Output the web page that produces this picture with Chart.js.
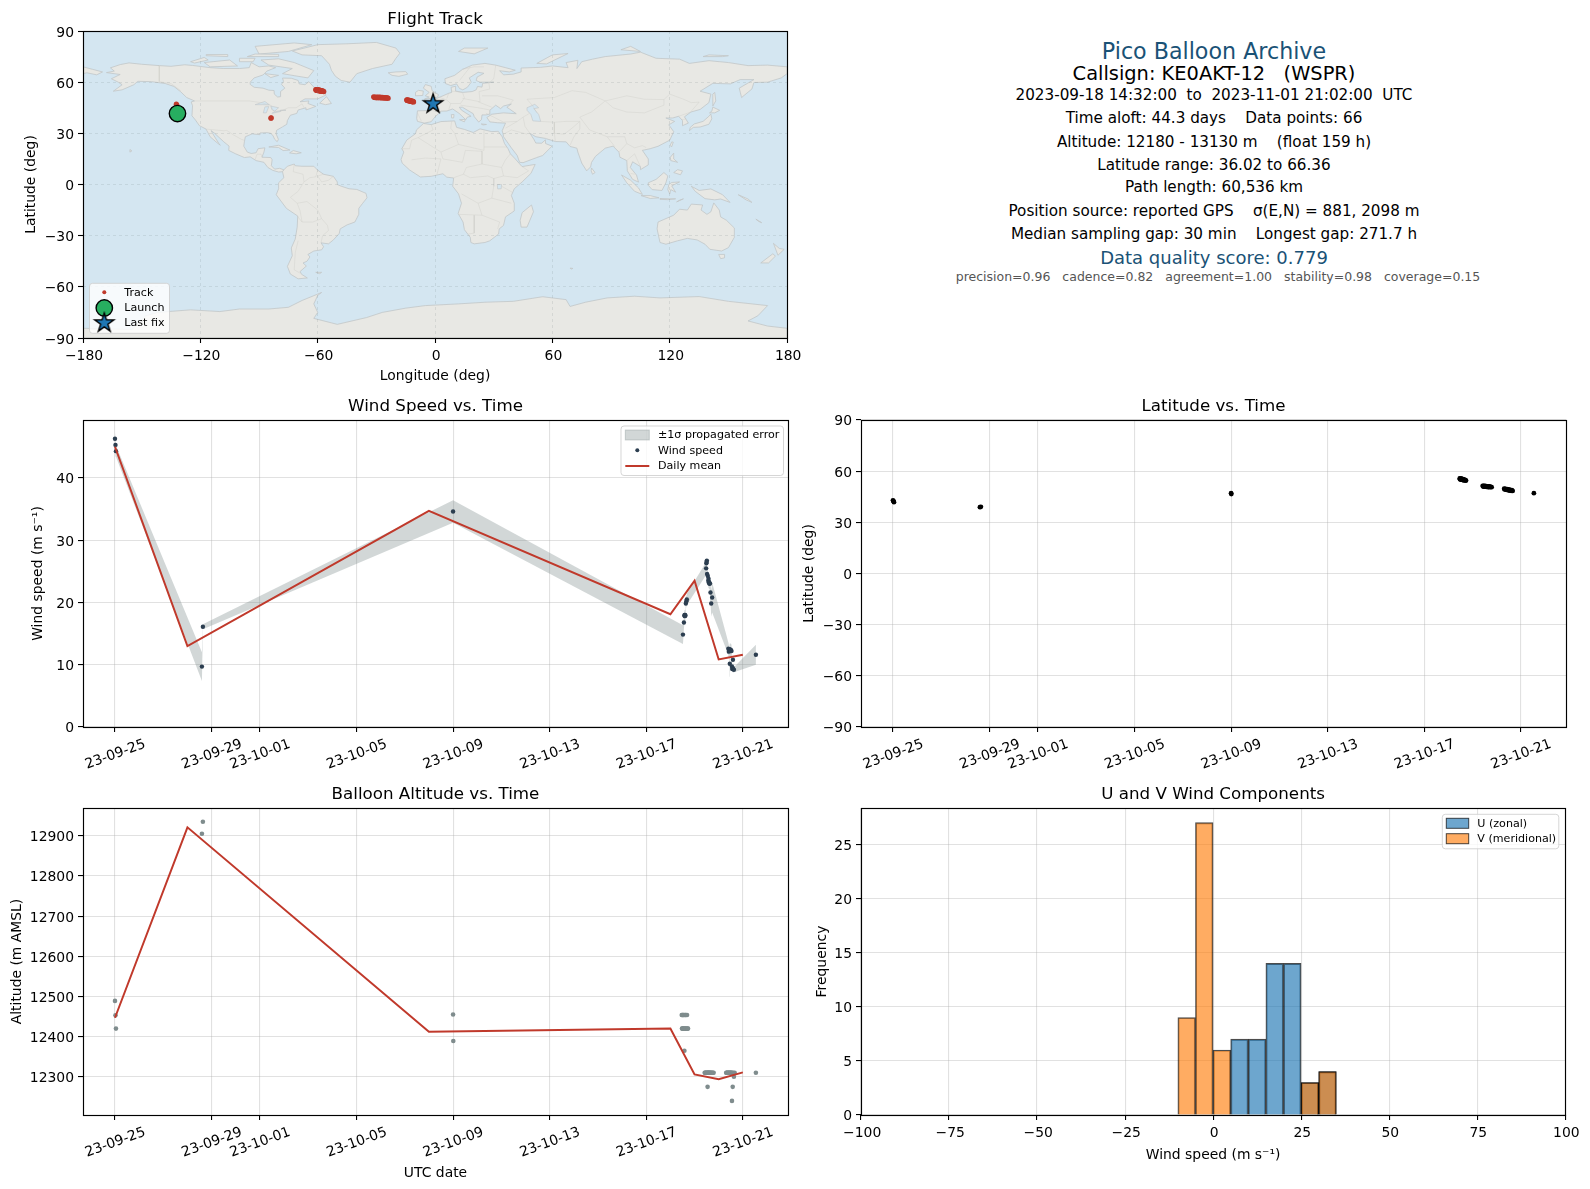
<!DOCTYPE html>
<html><head><meta charset="utf-8">
<style>
html,body{margin:0;padding:0;background:#fff}
#page{position:relative;width:1590px;height:1189px;overflow:hidden;font-family:"DejaVu Sans",sans-serif;color:#000}
canvas{position:absolute}
.t{position:absolute;left:1214px;transform:translate(-50%,-50%);white-space:pre;font-size:14px;line-height:1}
</style>
<script src="https://cdn.jsdelivr.net/npm/chart.js@4/dist/chart.umd.js"></script>
</head><body><div id="page"></div>
<script>
// ---- time axis ----
const timeTickDays=[0,4,6,10,14,18,22,26];
const timeTickLabels=['23-09-25','23-09-29','23-10-01','23-10-05','23-10-09','23-10-13','23-10-17','23-10-21'];
const lonTicks=[-180,-120,-60,0,60,120,180];
const latTicks=[-90,-60,-30,0,30,60,90];
const windTicks=[0,10,20,30,40];
const altTicks=[12300,12400,12500,12600,12700,12800,12900];
const histXTicks=[-100,-75,-50,-25,0,25,50,75,100];
const histYTicks=[0,5,10,15,20,25];

// ---- fixes (66) ----
const fixDays=[0.00,0.02,0.04,3.60,3.64,14.00,14.01,
23.47,23.48,23.49,23.50,23.51,23.52,23.54,23.55,23.56,23.57,23.58,23.60,23.61,23.62,23.63,23.65,23.67,23.69,23.71,23.73,
24.42,24.44,24.46,24.48,24.50,24.52,24.54,24.55,24.56,24.57,24.58,24.60,24.62,24.64,24.66,24.68,24.70,24.73,24.76,24.79,
25.31,25.33,25.35,25.37,25.39,25.41,25.43,25.45,25.47,25.49,25.51,25.53,25.55,25.56,25.58,25.60,25.63,25.66,26.54];
const fixLat=[42.9,42.4,41.8,38.9,39.1,47.1,46.6,
55.7,55.3,55.6,55.1,55.5,55.2,55.6,55.0,55.4,55.0,55.3,54.8,55.2,54.7,55.1,54.9,54.6,54.9,54.6,54.5,
51.4,51.0,51.3,50.9,51.3,50.9,51.2,50.9,51.2,50.8,51.1,50.8,51.1,50.7,51.0,50.7,51.0,50.6,50.8,50.6,
49.7,49.3,49.6,49.2,49.5,49.1,49.4,49.0,49.3,48.8,49.1,48.7,49.0,48.6,48.9,48.5,48.8,48.4,47.1];
const fixLon=[-132.2,-132.1,-132.0,-83.9,-83.8,-132.3,-132.0,
-61.0,-60.8,-60.6,-60.4,-60.2,-60.0,-59.8,-59.6,-59.4,-59.2,-59.0,-58.8,-58.6,-58.4,-58.2,-58.0,-57.7,-57.4,-57.1,-56.9,
-31.4,-31.0,-30.6,-30.2,-29.8,-29.4,-29.0,-28.6,-28.2,-27.8,-27.5,-27.2,-26.8,-26.4,-26.0,-25.6,-25.2,-24.8,-24.4,-24.0,
-14.5,-14.3,-14.1,-13.9,-13.7,-13.5,-13.3,-13.1,-12.9,-12.7,-12.5,-12.3,-12.1,-11.9,-11.7,-11.5,-11.2,-11.0,-2.0];
const fixAlt=[12489,12453,12420,12905,12935,12455,12389,
12454,12420,12454,12420,12454,12420,12454,12420,12454,12420,12365,12454,12420,12454,12420,12454,12420,12454,12420,12420,
12310,12310,12310,12310,12310,12310,12275,12310,12310,12310,12310,12310,12310,12310,12310,12310,12310,12310,12310,12310,
12310,12310,12310,12310,12310,12310,12310,12310,12310,12310,12310,12310,12240,12310,12275,12310,12300,12310,12310];

// ---- wind speed ----
const windDays=[0.00,0.02,0.04,3.60,3.64,14.00,
23.52,23.56,23.58,23.59,23.60,23.61,23.62,23.64,23.66,23.68,
24.48,24.49,24.50,24.51,24.52,24.55,24.57,24.58,24.59,24.60,24.62,24.64,24.66,24.69,24.73,
25.40,25.42,25.44,25.45,25.46,25.47,25.50,25.53,25.55,25.56,25.58,25.59,25.60,25.63,26.54];
const windSpeed=[46.3,45.3,44.3,9.7,16.1,34.6,
14.84,16.77,17.9,18.0,17.8,18.0,17.9,19.84,20.2,20.48,
25.48,26.29,26.5,26.72,24.57,24.25,23.5,23.8,23.17,23.3,23.0,23.06,21.6,19.84,20.8,
12.58,12.1,12.5,12.31,10.16,12.4,12.42,12.2,9.73,9.3,9.5,10.8,9.3,9.2,11.6];
const windSigma=[1.0,1.0,0.9,2.3,0.4,1.8,
1.5,1.0,0.9,0.9,0.9,0.9,0.9,0.9,0.9,0.9,
1.0,0.9,0.9,0.8,0.9,0.9,0.9,0.9,0.9,0.9,0.9,0.9,1.5,2.1,2.4,
1.0,1.0,1.0,1.0,2.1,1.0,1.0,1.0,0.7,0.6,0.6,0.7,0.6,0.4,1.6];
const meanDays=[0,3,13,23,24,25,26];
const meanWind=[45.0,13.0,34.7,18.1,23.5,10.85,11.6];
const meanAlt=[12447,12921,12412,12420,12306,12294,12311];

// ---- histogram ----
const uCenters=[7.5,12.5,17.5,22.5,27.5,32.5];
const uCounts=[7,7,14,14,3,4];
const vCenters=[-7.5,-2.5,2.5,27.5,32.5];
const vCounts=[9,27,6,3,4];

// ---- markers ----
const launchLon=[-131.7], launchLat=[41.6];
const lastLon=[-1.0], lastLat=[47.3];

// ---- land outlines (lon,lat) ----
const landNorthAmerica=[[-168,65.6],[-164,66.5],[-166,68.4],[-161,70.3],[-156.5,71.3],[-150,70.5],[-141,69.7],[-135,69.3],[-128,70.2],[-124,69.8],[-115,68.5],[-108,68],[-100,68],[-95,68.5],[-94,71.5],[-90,69],[-85,69.5],[-81.5,68.5],[-86,66.5],[-88,64.2],[-92.5,62.5],[-94.5,60],[-94.5,58.7],[-92.5,57],[-88,56.5],[-85,55.3],[-82.3,55.1],[-82.2,53],[-80.5,51.3],[-79,51.5],[-79,54.5],[-76.8,56.5],[-78.5,58.7],[-77.5,60.5],[-78,62.4],[-73.5,62.3],[-70,61],[-69.5,59],[-66.5,58.5],[-64.5,60.3],[-61.5,56.5],[-57.5,54.5],[-55.7,52.5],[-60,50.2],[-66.5,50.2],[-69,48.5],[-64.5,49],[-65,47.5],[-61,45.8],[-64,44.5],[-66,43.7],[-66,45],[-70,43.7],[-70.7,41.7],[-74,40.6],[-75.5,37.5],[-75.8,35.3],[-78,33.8],[-81,31.8],[-81.3,29.8],[-80.1,26.5],[-80.7,25.1],[-82,26.5],[-82.8,28.5],[-84,30],[-86,30.4],[-89.5,30.2],[-89.5,29.2],[-93.5,29.7],[-97,28],[-97.5,25],[-97.8,22.5],[-96,19],[-94,18.2],[-91.5,18.6],[-90.5,21],[-87,21.5],[-87.5,19],[-88.5,16],[-84,15.8],[-83.3,14.5],[-83.7,11],[-82,9],[-79.5,9.5],[-77.3,8.6],[-78,7.5],[-80,7.3],[-83,8.3],[-85.5,10],[-87.5,13],[-91.5,14],[-94.5,16.2],[-97.5,15.8],[-102,18],[-105.5,20],[-105.3,22.5],[-108,25],[-112.7,30],[-114.5,31.6],[-113,28.5],[-110.5,24],[-109.8,23],[-112,25],[-115,28],[-117.1,32.5],[-120.5,34.5],[-122.5,37.8],[-124.3,40.3],[-124,46.2],[-124.7,48.4],[-123,49],[-127,51],[-130,54.3],[-133.5,57.5],[-138,59.2],[-145,60.3],[-152,60.5],[-154,58.5],[-160,55.5],[-164.5,54.7],[-160,58.5],[-162,60],[-165.5,62],[-161,64.5],[-168,65.6]];
const landSouthAmerica=[[-77.3,8.6],[-75.5,10.7],[-72,12],[-71.5,11],[-68,10.7],[-62,10.7],[-60,8.4],[-57,6],[-52,4.8],[-50,1.5],[-50,0],[-48,-1],[-44,-2.5],[-40,-2.9],[-35.3,-5.2],[-34.8,-7.8],[-37,-11],[-39,-14],[-39,-17.5],[-41,-22],[-45,-23.7],[-48.5,-26],[-49,-28.7],[-52,-32.5],[-54.5,-34.8],[-58.3,-34.2],[-57,-36.5],[-58,-38.3],[-62,-39],[-65,-41],[-64,-42.5],[-65.5,-45],[-67.5,-46],[-65.8,-47.8],[-69,-51],[-68.3,-52.6],[-65.3,-54.8],[-70,-55.3],[-74,-52.5],[-75.5,-48],[-73,-41.8],[-73.5,-37.2],[-71.5,-32],[-70.5,-25],[-70.2,-18.5],[-76,-14],[-81.2,-6],[-80,-2.5],[-80,1],[-77.3,4],[-78,7.5],[-77.3,8.6]];
const landAfrica=[[-5.9,35.8],[-2,35.1],[3,36.9],[10,37.3],[11,33.5],[15,32.3],[19.5,30.5],[23,32.6],[29,31],[32.3,31.2],[34.3,28],[35.5,24],[37.3,21],[38.5,18],[41,15],[43.3,12],[44.5,10.5],[51.2,11.8],[49,6.5],[44.5,1.5],[40.5,-2.5],[39,-6.5],[40.5,-11],[40.5,-15.5],[36,-19],[35,-24],[32.8,-26],[32.5,-29],[28,-33],[25.5,-34],[20,-34.8],[18.3,-34],[18,-31],[15,-26.5],[14.3,-22],[11.8,-17],[13.5,-11],[12,-5.5],[9,-1],[9.5,3.8],[6,4.3],[4,6.3],[-2,4.8],[-7.5,4.4],[-13,8.5],[-16.8,12.5],[-17.4,14.7],[-16,19],[-17,21],[-14.5,26],[-10,29.8],[-9.5,32],[-5.9,35.8]];
const landEurasia=[[-9,37],[-9.4,38.8],[-9,43.2],[-1.8,43.4],[-1.2,46],[-4.7,48.3],[-1.5,48.7],[1.5,50.8],[4,52],[7,53.5],[8.5,54],[8.2,57],[10.5,57.6],[10.5,54.8],[14,54],[19,54.5],[21,55.5],[21.7,57.5],[24,57.1],[24.3,59.3],[30,60],[23,60],[21,61],[21.5,63],[25,65.2],[22,65.8],[17.5,62.5],[18.5,60],[16.5,57],[14.2,55.5],[12.5,56.3],[11,59],[8,58],[5.3,59.2],[5,62],[10,64],[14,67.5],[19,70],[25.5,71],[31,70],[41,67],[38,66],[33,66.7],[35,64.3],[40,64.7],[44,66],[44,68.3],[54,68.7],[60,69.5],[68,68.5],[67,71.5],[73,72.8],[72.5,68],[75,72],[80.5,73.5],[87,75],[100,76.5],[105,77.6],[113,74],[125,73.5],[130,71],[140,72.6],[150,71.5],[160,69.7],[170,70],[180,69],[180,65],[177,62.5],[170,60],[163,59.8],[162,56],[156.7,51],[155.5,56.5],[163,61.5],[156,61.5],[151,59],[142,59.3],[135.5,54.7],[141,53],[140,48],[135.5,44],[130.8,42.5],[127.5,39.7],[129.5,36],[126.5,34.5],[126.5,37.5],[124.5,40],[121.5,39],[118,39],[122.5,37],[119.5,35],[122,31],[120,26],[114,22.4],[110,21],[106,20],[109,15],[109,11.5],[105,8.7],[105,10.5],[101,13.3],[99.8,10],[103,5.5],[104,1.4],[101,3],[98.3,8],[98,14],[94.5,16],[94,19],[91,22.5],[87,21.3],[82,16.5],[80,13],[79.5,10.3],[77.5,8],[75,12.5],[73,19],[72.5,21.3],[69,22.3],[67,25],[61.5,25.2],[57,26.8],[56.5,27],[51.5,28],[48.5,30],[50.5,26.5],[51.5,24.3],[54.5,24.2],[56.4,26.2],[56.5,24],[59.8,22.5],[55,17],[52,15.8],[45,12.8],[43.2,13],[42,17],[39,21.5],[35,28],[34.8,29.5],[34.3,31.5],[36,36],[32,36.2],[28,36.7],[26.5,39.3],[29,41.2],[35,42],[41.5,41.5],[38,44.3],[36.7,45.3],[39,47.2],[35,46],[33.5,44.5],[31,46.5],[28,43.5],[28,41.3],[26,40.8],[24,40.8],[23.7,38],[22.3,36.6],[20,39.8],[19.5,41.5],[14,45.3],[12.4,45.3],[13.5,43.6],[18.4,40],[16.5,39.5],[15.7,38],[12.3,41.7],[9,44.3],[6,43.1],[3.2,43],[0,39.7],[-2,36.8],[-5.5,36],[-9,37]];
const landChukotka=[[-180,69],[-175,67.5],[-170,66],[-173,64.3],[-178,65.5],[-180,65]];
const landGreenland=[[-73,78.3],[-68,76],[-58,75.5],[-54,70.5],[-53,67],[-51,63.5],[-48,61],[-43.5,60],[-40,65],[-32,68],[-22,70.5],[-20,74],[-18,77],[-20,80],[-30,83.3],[-45,82.5],[-60,82],[-65,80.5],[-73,78.3]];
const landIceland=[[-24,65.5],[-22,64],[-18.5,63.4],[-14,64.7],[-15,66.2],[-20,66],[-24,65.5]];
const landBritain=[[-5.5,50],[1.3,51.2],[1.7,52.7],[-1.5,55],[-2,57.6],[-5,58.6],[-6,56.5],[-3,54],[-5,52],[-3,51.3],[-5.5,50]];
const landIreland=[[-10,52],[-6.3,52.2],[-6,54.8],[-8.5,55.2],[-10,54],[-10,52]];
const landHonshu=[[130,31.5],[132,33.5],[135.5,33.7],[140,35.3],[141.5,38.5],[141,41.3],[140,40],[137,37],[132.5,35.5],[130.5,33.5],[130,31.5]];
const landHokkaido=[[140.3,42],[143,42],[145.5,43.5],[142,45.4],[141.5,43],[140.3,42]];
const landSakhalin=[[142,46],[143.5,49],[143,54],[142,53],[142,46]];
const landTaiwan=[[120.2,23],[121,25],[121.8,24.8],[120.9,22],[120.2,23]];
const landLuzon=[[120.3,16],[122,18.4],[122,15],[124,13],[120.5,14],[120.3,16]];
const landMindanao=[[122,7],[125.5,5.7],[126.5,8],[124,8.7],[122,7]];
const landBorneo=[[109,1],[113,3],[117,7],[119,5],[118,1],[116,-3.5],[111,-3],[109,-0.5],[109,1]];
const landSumatra=[[95.3,5.6],[100,2.5],[104,-2],[106,-5.8],[102,-4],[98,1],[95.3,5.6]];
const landJava=[[105.3,-6.5],[110,-6.5],[114.5,-7.8],[110,-8.2],[105.3,-6.5]];
const landSulawesi=[[119.5,0],[121,1.2],[125,1.5],[121,-0.8],[123,-4.5],[120.5,-3],[120,-5.5],[119,-3],[119.5,0]];
const landNewGuinea=[[131,-1],[135,-3.5],[141,-2.6],[147,-6],[150.8,-10.5],[146,-8.5],[143,-9],[138,-8.3],[133,-4],[131,-1]];
const landAustralia=[[114,-22],[113.5,-26],[115,-34],[118,-35],[124,-33],[129,-31.6],[134,-32.5],[138,-35],[140.5,-38],[146.5,-39],[150,-37],[153,-31],[153,-25.5],[149,-21],[146,-19],[145.3,-15],[142.5,-10.8],[141,-16],[139,-17.5],[136,-15],[136.8,-12],[131,-11.5],[129,-15],[125,-14.5],[122,-18],[117,-20.5],[114,-22]];
const landTasmania=[[145,-41],[148,-41],[148,-43],[146,-43.5],[145,-41]];
const landNZNorth=[[173,-34.5],[176,-37.5],[178.5,-38],[175.3,-41.5],[174.5,-39],[173,-34.5]];
const landNZSouth=[[172.7,-40.6],[174,-42],[170.5,-46],[166.5,-46],[172.7,-40.6]];
const landMadagascar=[[49.3,-12],[50.3,-16],[47,-25],[44,-25],[43.5,-21],[44.5,-16.5],[49.3,-12]];
const landSriLanka=[[80,9.7],[81.8,7],[80.5,6],[79.8,8],[80,9.7]];
const landCuba=[[-85,22],[-80,23],[-74.2,20.2],[-77.7,19.9],[-80,21.7],[-85,22]];
const landHispaniola=[[-74.4,18.5],[-72.5,19.9],[-68.4,18.6],[-71,18],[-74.4,18.5]];
const landNewfoundland=[[-59,47.7],[-55.5,51.5],[-53,47.5],[-56,46.8],[-59,47.7]];
const landBaffin=[[-80,73.7],[-72,71.5],[-62,66.8],[-65,62.5],[-72,63.8],[-78,65],[-73,68],[-85,70],[-89,73],[-80,73.7]];
const landVictoria=[[-118,71.5],[-105,73],[-101,69.5],[-115,69],[-118,71.5]];
const landBanks=[[-125,72],[-118,74.5],[-116,73],[-123,71.2],[-125,72]];
const landEllesmere=[[-90,76.5],[-75,78],[-63,82],[-72,83],[-92,81],[-90,76.5]];
const landDevon=[[-96,75],[-80,75],[-80,76.3],[-92,76.5],[-96,75]];
const landSouthampton=[[-87,65],[-80,64],[-84,62.7],[-87,65]];
const landMelville=[[-117,75.5],[-106,75],[-106,76.2],[-117,76.2],[-117,75.5]];
const landPrinceWales=[[-100,74],[-92,74],[-93,72],[-100,72],[-100,74]];
const landNovaya=[[52,71],[57,70.7],[68,76.8],[60,76],[52,71]];
const landSvalbard=[[12,78],[20,76.6],[27,80],[15,80],[12,78]];
const landSevernaya=[[95,79],[105,78],[100,81],[95,79]];
const landSiberianIs=[[137,75],[147,75],[150,75.5],[140,76],[137,75]];
const landHawaii=[[-156,19],[-155,19.7],[-156,20.5],[-156,19]];
const landNewCaledonia=[[164,-20.3],[167,-22.4],[165.5,-21.7],[164,-20.3]];
const landFalklands=[[-61,-51.5],[-58,-51.5],[-59,-52.3],[-61,-51.5]];
const landKerguelen=[[69,-49],[70.5,-49.2],[69.5,-49.6],[69,-49]];
const landSicily=[[12.5,38],[15.5,38.2],[15,36.7],[12.5,38]];
const landSardinia=[[8.3,41],[9.7,41],[9.5,39],[8.5,39],[8.3,41]];
const landCrete=[[23.6,35.5],[26.3,35.2],[24.5,34.9],[23.6,35.5]];
const landTimor=[[123.5,-10.2],[127,-8.4],[125,-9.2],[123.5,-10.2]];
const landFlores=[[115,-8.2],[120,-8.4],[123,-8.4],[119,-8.9],[115,-8.7],[115,-8.2]];
const landSolomon=[[155,-6],[160,-8.5],[162,-10.5],[159,-9],[155,-6]];
const landAntarctica=[[-180,-84.3],[-155,-85],[-148,-77],[-142,-75],[-125,-73.5],[-110,-74.5],[-100,-73],[-85,-73],[-75,-72],[-68,-68],[-58,-63.3],[-60,-65],[-62,-70],[-60,-75],[-62,-78.5],[-50,-82],[-35,-78],[-27,-75],[-15,-72.5],[-5,-71],[12,-70],[26,-69],[40,-68.5],[55,-65.8],[67,-67.5],[69,-71.5],[77,-69],[88,-66.5],[102,-65.5],[115,-66.5],[135,-65.7],[150,-68.5],[170,-71],[165,-77],[160,-80],[170,-83],[180,-84.3],[180,-90],[-180,-90],[-180,-84.3]];
const waterCaspian=[[47,45],[51,47],[53,45],[50.5,44.5],[53,41],[54,37],[50,37.3],[49,41],[47,43.5],[47,45]];
const waterSuperior=[[-92,46.8],[-87,48.7],[-84.7,46.7],[-88,46.8],[-92,46.8]];
const waterMichigan=[[-87.8,42],[-86.3,42],[-85,45.7],[-87,45.5],[-87.8,42]];
const waterHuron=[[-84,46],[-80,45],[-82,43],[-83.5,44],[-84,46]];
const waterErie=[[-83.4,41.7],[-79,42.8],[-79,43.6],[-76.2,43.6],[-79.5,43.2],[-83,42.2],[-83.4,41.7]];
const waterVictoria=[[31.8,0],[34,0],[33.8,-2.5],[32,-2.6],[31.8,0]];
const landLayers=[landNorthAmerica,landSouthAmerica,landAfrica,landEurasia,landChukotka,landGreenland,landIceland,landBritain,landIreland,landHonshu,landHokkaido,landSakhalin,landTaiwan,landLuzon,landMindanao,landBorneo,landSumatra,landJava,landSulawesi,landNewGuinea,landAustralia,landTasmania,landNZNorth,landNZSouth,landMadagascar,landSriLanka,landCuba,landHispaniola,landNewfoundland,landBaffin,landVictoria,landBanks,landEllesmere,landDevon,landSouthampton,landMelville,landPrinceWales,landNovaya,landSvalbard,landSevernaya,landSiberianIs,landHawaii,landNewCaledonia,landFalklands,landKerguelen,landSicily,landSardinia,landCrete,landTimor,landFlores,landSolomon,landAntarctica];
const waterLayers=[waterCaspian,waterSuperior,waterMichigan,waterHuron,waterErie,waterVictoria];

// ---- political borders (lon,lat) ----
const borderLines=[
[[-141,69.7],[-141,60.3],[-135,59.2],[-130,55]],
[[-123,49],[-95,49],[-89,48],[-84,46.5],[-82.5,43],[-79,43],[-75,45],[-71,45],[-68,47.3],[-67,45]],
[[-117.1,32.5],[-108,31.5],[-106.5,31.7],[-103,29],[-99,26.5],[-97.5,25.9]],
[[-92,14.6],[-91,17.8],[-89,17.8],[-88.5,16]],
[[-72,12],[-72.5,7.5],[-67.5,6],[-67,1.5],[-70,-4],[-74,-7.5],[-70.5,-11],[-69,-15.5],[-68,-22],[-70.5,-18.5]],
[[-60,8.4],[-61,4.5],[-64,4],[-67,1.5]],
[[-58,-20],[-60,-15],[-65.5,-10],[-70.5,-11]],
[[-68,-22],[-62.5,-22],[-58,-20],[-55,-24],[-54.5,-27],[-57.5,-30],[-58.3,-34.2]],
[[-70,-33],[-71.5,-40],[-72,-50],[-69,-52]],
[[-52,4.8],[-54.5,2.5],[-58,1.5],[-60,5],[-57,6]],
[[-8.7,27.5],[-12,26],[-13,21],[-17,21]],
[[-2,35.1],[-1,32],[-8.7,27.5],[3,19],[12,23.5],[10,30],[8,33],[8.5,37]],
[[12,23.5],[25,20],[25,31.7]],
[[25,22],[36.8,22]],
[[3,19],[4,15],[14,13],[15.5,20],[24,19.5],[24,12],[16,10],[14.5,6],[9.5,4]],
[[-12,14.5],[-5,15.5],[3,15],[1,6]],
[[24,12],[34,10],[36,14.5],[38.5,18]],
[[34,10],[35,5],[42,4],[47.8,8],[44.5,10.5]],
[[35,5],[30,3.5],[27,5],[18,4],[14.5,6]],
[[30,3.5],[30,-1],[29,-8],[22,-11],[13.5,-5.5]],
[[29,-8],[39,-11]],[[34,-1],[39.5,-4.6]],
[[22,-11],[24,-18],[12,-17.5]],[[20,-18],[20,-28.5],[17,-29]],
[[24,-18],[33,-22],[32,-26]],
[[2.5,51],[6,49.5],[8,47.5],[7,44]],[[-1.8,43.4],[3.2,42.5]],[[-9,42],[-7,37.2]],
[[7,53.5],[6,50.5]],[[8.5,54.8],[14,54]],[[14,54],[15,50.8],[13,47.5],[8,47.5]],
[[14,50.5],[23,48.5],[22.5,54.5]],[[13,46.5],[22,45],[28,43.7]],[[22,48.5],[29,45.3]],
[[22.5,54.5],[28,56],[27.5,59.5]],[[24,52],[32,52],[40,49.5],[38,47]],
[[31,70],[30,62],[27.5,59.5]],[[14,67.5],[20,69],[25,69]],[[12.5,61],[18,69]],
[[26,41.8],[35,36.6],[42,37],[45,39.5],[48,41.5]],
[[36,33],[42,37]],[[39,32],[47,29.5]],[[45,39.5],[46,34],[48.5,30]],[[39,32],[35,29.5]],
[[52,42],[50,46],[47,50],[61,51],[70,55],[77,54],[87,49],[98,52],[107,50],[117,49.8],[120,53],[127,50],[131,48],[135,48.3],[131,43]],
[[87,49],[80,42.5],[74,39.5],[79,32],[88,28],[97,28],[98,24],[102,21.5],[106,22.8],[108,21.6]],
[[98,42.5],[107,42],[117,46.5],[117,49.8]],[[87,49],[91,45],[98,42.5]],
[[54,37],[61,36.5],[61,30],[61.5,25.2]],[[61,36.5],[67,37],[74,37]],[[61,30],[66,29.5],[70,33],[74,37]],
[[69,23],[71,28],[74,32.5],[74,37]],[[88,28],[92,22]],[[94,19],[98,24]],[[98,14],[102,18],[105,10.5]],[[100,6.5],[102,6]],
[[124.5,40],[130.8,42.5]],[[126,38],[128.5,38.5]]
];
const oceanColor='#d4e6f1', landFill='#e8e8e4', landEdge='#c2c6c8', borderColor='rgba(205,205,200,0.55)';
const red='#c0392b';

// ---- helpers ----
const page=document.getElementById('page');
const tickPx=13.9;
Chart.defaults.font.family='"DejaVu Sans"';
Chart.defaults.color='#000';
Chart.defaults.animation=false;
const pts=(xs,ys)=>xs.map((x,i)=>({x,y:ys[i]}));
const minus=v=>String(v).replace('-','\u2212');
const grid={color:'rgba(176,176,176,0.38)',lineWidth:1.1,tickColor:'#000',tickLength:5,tickWidth:1.1,z:-1,offset:false};
const timeScale=(title,pad)=>({type:'linear',min:-1.325,max:27.87,
  afterBuildTicks:s=>{s.ticks=timeTickDays.map(value=>({value}))},
  afterFit:s=>{s.height=70},
  grid,border:{display:false},
  ticks:{autoSkip:false,minRotation:20,maxRotation:20,padding:4,labelOffset:30,font:{size:tickPx},callback:v=>timeTickLabels[timeTickDays.indexOf(v)]},
  title:title?{display:true,text:title,font:{size:tickPx},padding:pad,lineHeight:1.2}:{display:false}});
const valueScale=(ticks,min,max,title,pad,fmt)=>({type:'linear',min,max,
  afterBuildTicks:s=>{s.ticks=ticks.map(value=>({value}))},
  afterFit:s=>{s.width=83},
  grid,border:{display:false},
  ticks:{autoSkip:false,padding:4,labelOffset:1.8,font:{size:tickPx},callback:fmt||minus},
  title:{display:true,text:title,font:{size:tickPx},padding:pad,lineHeight:1.2}});

const framePlugin={id:'frame',
  beforeDatasetsDraw(c,a,o){
    if(!o.ocean) return;
    const A=c.chartArea,x=c.ctx;x.save();
    x.fillStyle=o.ocean;x.fillRect(A.left,A.top,A.right-A.left,A.bottom-A.top);
    x.beginPath();x.rect(A.left,A.top,A.right-A.left,A.bottom-A.top);x.clip();
    x.lineJoin='round';
    c.data.datasets.forEach((d,i)=>{
      if(!d.polygon) return;
      const m=c.getDatasetMeta(i).data;
      x.beginPath();m.forEach((p,j)=>x[j?'lineTo':'moveTo'](p.x,p.y));x.closePath();
      x.fillStyle=d.polygon.fill;x.fill();x.strokeStyle=d.polygon.edge;x.lineWidth=d.polygon.width;x.stroke();
    });
    x.restore();
  },
  afterDraw(c,a,o){
    const A=c.chartArea,x=c.ctx;x.save();x.strokeStyle='#000';x.lineWidth=1.15;
    x.strokeRect(Math.round(A.left)+.5,Math.round(A.top)+.5,Math.round(A.right-A.left),Math.round(A.bottom-A.top));x.restore();
    if(o.legend) drawLegend(c,o.legend);
  }};
function drawLegend(c,L){
  const x=c.ctx;x.save();
  x.beginPath();x.roundRect(L.x,L.y,L.w,L.h,3);x.fillStyle='rgba(255,255,255,0.8)';x.fill();
  x.strokeStyle='rgba(204,204,204,0.8)';x.lineWidth=1;x.stroke();
  x.font='11.1px "DejaVu Sans"';x.textBaseline='middle';x.textAlign='left';
  L.items.forEach(it=>{
    const d=c.data.datasets[it.ds];
    if(it.kind==='patch'){x.fillStyle=d.backgroundColor;x.fillRect(L.sx,it.y-5,L.sw,10);x.strokeStyle=d.patchEdge||d.backgroundColor;x.lineWidth=1;x.strokeRect(L.sx,it.y-5,L.sw,10);}
    if(it.kind==='line'){x.strokeStyle=d.borderColor;x.lineWidth=2;x.beginPath();x.moveTo(L.sx,it.y);x.lineTo(L.sx+L.sw,it.y);x.stroke();}
    const cx=L.sx+L.sw/2;
    if(it.kind==='dot'||it.kind==='circle'){x.beginPath();x.arc(cx,it.y,it.r,0,7);x.fillStyle=d.pointBackgroundColor;x.fill();if(it.kind==='circle'){x.strokeStyle='#000';x.lineWidth=1.4;x.stroke();}}
    if(it.kind==='star'){x.drawImage(d.pointStyle,cx-d.pointStyle.width/2,it.y-d.pointStyle.height/2);}
    x.fillStyle='#000';x.fillText(d.label,L.tx,it.y+.5);
  });
  x.restore();
}
function starImage(r,fill){
  const cv=document.createElement('canvas');cv.width=cv.height=2*r+6;
  const x=cv.getContext('2d'),m=r+3;x.beginPath();
  for(let i=0;i<10;i++){const a=-Math.PI/2+i*Math.PI/5,q=i%2?r*0.382:r;x[i?'lineTo':'moveTo'](m+q*Math.cos(a),m+q*Math.sin(a));}
  x.closePath();x.fillStyle=fill;x.fill();x.strokeStyle='#000';x.lineWidth=1.4;x.lineJoin='miter';x.stroke();return cv;
}
const W=805,H=307;
function panel(px,py,title,config,frameOpts,titleTop){
  const cv=document.createElement('canvas');
  cv.width=W;cv.height=32+H+70;
  cv.style.left=(px-83)+'px';cv.style.top=(py-32)+'px';cv.style.width=W+'px';cv.style.height=(32+H+70)+'px';
  page.appendChild(cv);
  const tt=titleTop===undefined?9:titleTop;
  config.options=Object.assign({responsive:false,maintainAspectRatio:false,devicePixelRatio:1,animation:false,
    layout:{padding:{right:W-83-705,left:0,top:0,bottom:0}},
    plugins:{legend:{display:false},tooltip:{enabled:false},
      title:{display:true,text:title,fullSize:false,font:{size:16.7,weight:'normal',lineHeight:'20px'},padding:{top:tt,bottom:12-tt},color:'#000'},
      frame:frameOpts||{}}},config.options);
  config.plugins=[framePlugin];
  return new Chart(cv.getContext('2d'),config);
}

// ---- Flight Track ----
const starMarker=starImage(10,'#1f77b4');
const polyDs=(p,fill,edge,width)=>({data:p.map(a=>({x:a[0],y:a[1]})),pointRadius:0,showLine:false,polygon:{fill,edge,width}});
const mapGrid={color:'rgba(110,120,125,0.2)',lineWidth:0.8,tickColor:'#000',tickLength:5,tickWidth:1.1,z:1};
panel(83,31,'Flight Track',{type:'scatter',data:{datasets:[
  {label:'Track',data:pts(fixLon,fixLat),pointRadius:2.6,pointBorderWidth:0,pointBackgroundColor:red,order:3},
  {label:'Launch',data:pts(launchLon,launchLat),pointRadius:8.2,pointBorderWidth:1.4,pointBorderColor:'#000',pointBackgroundColor:'#27ae60',order:2},
  {label:'Last fix',data:pts(lastLon,lastLat),pointStyle:starMarker,pointBackgroundColor:'#1f77b4',order:1},
  ...borderLines.map(b=>({data:b.map(a=>({x:a[0],y:a[1]})),showLine:true,pointRadius:0,borderColor:borderColor,borderWidth:0.7,fill:false,order:7})),
  ...landLayers.map(p=>polyDs(p,landFill,landEdge,0.8)),
  ...waterLayers.map(p=>polyDs(p,oceanColor,landEdge,0.6))
]},options:{scales:{
  x:{type:'linear',min:-180,max:180,afterBuildTicks:s=>{s.ticks=lonTicks.map(value=>({value}))},afterFit:s=>{s.height=70},
     grid:mapGrid,border:{display:false,dash:[3,3]},
     ticks:{autoSkip:false,maxRotation:0,padding:4.6,labelOffset:1,font:{size:tickPx},callback:minus},
     title:{display:true,text:'Longitude (deg)',font:{size:tickPx},padding:23.3,lineHeight:1.2}},
  y:{type:'linear',min:-90,max:90,afterBuildTicks:s=>{s.ticks=latTicks.map(value=>({value}))},afterFit:s=>{s.width=83},
     grid:mapGrid,border:{display:false,dash:[3,3]},
     ticks:{autoSkip:false,padding:4,labelOffset:2,font:{size:tickPx},callback:minus},
     title:{display:true,text:'Latitude (deg)',font:{size:tickPx},padding:22.6,lineHeight:1.2}}
}}},{ocean:oceanColor,legend:{x:89.5,y:284.3,w:80,h:50,sx:92.3,sw:24,tx:124.3,items:[{ds:0,kind:'dot',y:293.3,r:2},{ds:1,kind:'circle',y:309,r:8.2},{ds:2,kind:'star',y:324}]}},10.5);

// ---- Wind speed ----
panel(83,420,'Wind Speed vs. Time',{type:'scatter',data:{datasets:[
  {label:'\u00b11\u03c3 propagated error',data:pts(windDays,windSpeed.map((v,i)=>v+windSigma[i])),showLine:true,pointRadius:0,borderWidth:0,backgroundColor:'rgba(127,140,141,0.35)',fill:'+1',order:5},
  {data:pts(windDays,windSpeed.map((v,i)=>v-windSigma[i])),showLine:true,pointRadius:0,borderWidth:0,backgroundColor:'rgba(127,140,141,0.35)',fill:false,order:5},
  {label:'Wind speed',data:pts(windDays,windSpeed),pointRadius:2.2,pointBorderWidth:0,pointBackgroundColor:'#2c3e50',order:3},
  {label:'Daily mean',data:pts(meanDays,meanWind),showLine:true,pointRadius:0,borderColor:red,borderWidth:2,fill:false,order:2}
]},options:{scales:{x:timeScale(),y:valueScale(windTicks,0,49.3,'Wind speed (m s\u207b\u00b9)',29.6)}}},
{legend:{x:621,y:38,w:162.5,h:49.5,sx:625.3,sw:24,tx:658,items:[{ds:0,kind:'patch',y:47},{ds:2,kind:'dot',y:62.3,r:2},{ds:3,kind:'line',y:78}]}});

// ---- Latitude ----
panel(861,420,'Latitude vs. Time',{type:'scatter',data:{datasets:[
  {label:'Latitude',data:pts(fixDays,fixLat),pointRadius:2.4,pointBorderWidth:0,pointBackgroundColor:'#000'}
]},options:{scales:{x:timeScale(),y:valueScale(latTicks,-90,90,'Latitude (deg)',23.3)}}});

// ---- Altitude ----
panel(83,808,'Balloon Altitude vs. Time',{type:'scatter',data:{datasets:[
  {label:'Altitude',data:pts(fixDays,fixAlt),pointRadius:2.3,pointBorderWidth:0,pointBackgroundColor:'#7f8c8d',order:3},
  {label:'Daily mean',data:pts(meanDays,meanAlt),showLine:true,pointRadius:0,borderColor:red,borderWidth:2,fill:false,order:1}
]},options:{scales:{x:timeScale('UTC date',3.3),y:valueScale(altTicks,12204.9,12969.2,'Altitude (m AMSL)',8.6)}}});

// ---- Histogram ----
panel(861,808,'U and V Wind Components',{type:'bar',data:{datasets:[
  {label:'U (zonal)',data:pts(uCenters,uCounts),backgroundColor:'rgba(31,119,180,0.65)',patchEdge:'rgba(0,0,0,0.7)',borderColor:'rgba(0,0,0,0.7)',borderWidth:1.2,barPercentage:1,categoryPercentage:1,grouped:false,order:2},
  {label:'V (meridional)',data:pts(vCenters,vCounts),backgroundColor:'rgba(255,127,14,0.65)',patchEdge:'rgba(0,0,0,0.7)',borderColor:'rgba(0,0,0,0.7)',borderWidth:1.2,barPercentage:1,categoryPercentage:1,grouped:false,order:1}
]},options:{scales:{
  x:{type:'linear',min:-100,max:100,offset:false,afterBuildTicks:s=>{s.ticks=histXTicks.map(value=>({value}))},afterFit:s=>{s.height=70},
     grid,border:{display:false},ticks:{autoSkip:false,maxRotation:0,padding:4.6,labelOffset:1.2,font:{size:tickPx},callback:minus},
     title:{display:true,text:'Wind speed (m s\u207b\u00b9)',font:{size:tickPx},padding:20.8,lineHeight:1.2}},
  y:valueScale(histYTicks,0,28.35,'Frequency',36.3)
}}},{legend:{x:664.3,y:38.3,w:116.5,h:34.5,sx:668.3,sw:22.4,tx:699.3,items:[{ds:0,kind:'patch',y:47.3},{ds:1,kind:'patch',y:62.7}]}});

// ---- Summary text ----
const summaryLines=[
 ['Pico Balloon Archive',50.7,22.2,'#1a5276',0],
 ['Callsign: KE0AKT-12   (WSPR)',74,19.4,'#000',0],
 ['2023-09-18 14:32:00  to  2023-11-01 21:02:00  UTC',96,15.2,'#000',0],
 ['Time aloft: 44.3 days    Data points: 66',119,15.2,'#000',0],
 ['Altitude: 12180 - 13130 m    (float 159 h)',142.5,15.2,'#000',0],
 ['Latitude range: 36.02 to 66.36',165.5,15.2,'#000',0],
 ['Path length: 60,536 km',188,15.2,'#000',0],
 ['Position source: reported GPS    \u03c3(E,N) = 881, 2098 m',211.5,15.2,'#000',0],
 ['Median sampling gap: 30 min    Longest gap: 271.7 h',234.5,15.2,'#000',0],
 ['Data quality score: 0.779',257.5,18,'#1a5276',0],
 ['precision=0.96   cadence=0.82   agreement=1.00   stability=0.98   coverage=0.15',277,12.5,'#555555',4]
];
summaryLines.forEach(([text,y,size,color,dx])=>{
  const d=document.createElement('div');d.className='t';d.textContent=text;
  d.style.top=y+'px';d.style.fontSize=size+'px';d.style.color=color;d.style.marginLeft=dx+'px';page.appendChild(d);
});
</script></body></html>
